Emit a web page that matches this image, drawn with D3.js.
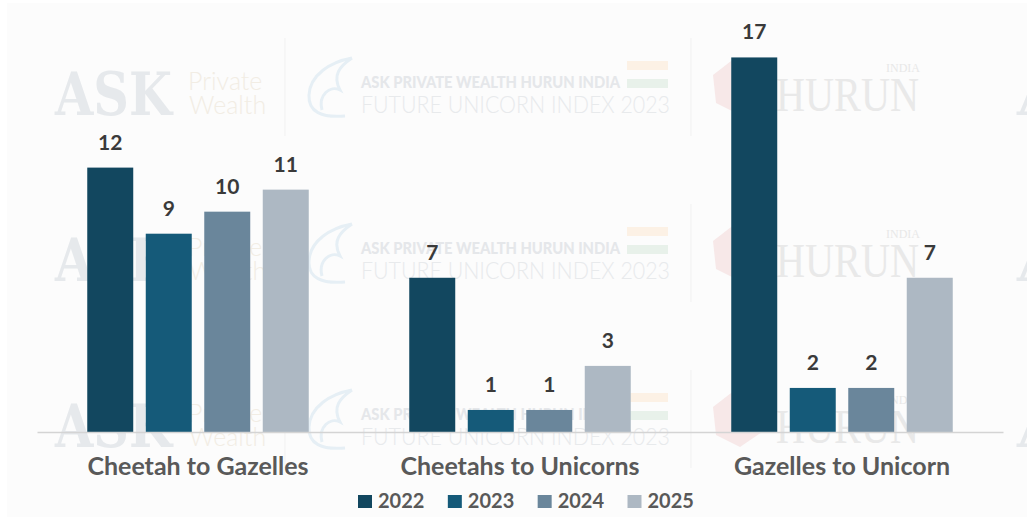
<!DOCTYPE html>
<html><head><meta charset="utf-8">
<script src="https://cdn.jsdelivr.net/npm/d3@7"></script>
<style>
html,body{margin:0;padding:0;background:#fff;}
svg{display:block;}
</style></head>
<body>
<svg id="chart" width="1027" height="517"></svg>
<script>
const categories = ["Cheetah to Gazelles", "Cheetahs to Unicorns", "Gazelles to Unicorn"];
const years = ["2022", "2023", "2024", "2025"];
const values2022 = [12, 7, 17];
const values2023 = [9, 1, 2];
const values2024 = [10, 1, 2];
const values2025 = [11, 3, 7];
const colors = ["#12475f", "#155a79", "#6a869b", "#adb8c3"];

const seriesValues = [values2022, values2023, values2024, values2025];
const data = categories.map((c, i) => ({
  category: c,
  items: years.map((y, j) => ({ year: y, value: seriesValues[j][i] }))
}));

const svg = d3.select("#chart");
svg.append("rect").attr("x", 7).attr("y", 3).attr("width", 1020).attr("height", 514).attr("fill", "#fcfcfc");

// faint watermark tiles
const wm = svg.append("g").attr("class", "watermark");
const rowOffsets = [0, 166, 332];
rowOffsets.forEach(dy => {
  const g = wm.append("g").attr("transform", `translate(0,${dy})`);
  g.append("text").attr("x", 55).attr("y", 115).attr("font-family", "DejaVu Serif").attr("font-weight", "bold")
    .attr("font-size", 60).attr("fill", "#e6e9ec").attr("textLength", 117).attr("lengthAdjust", "spacingAndGlyphs").text("ASK");
  g.append("text").attr("x", 188).attr("y", 90).attr("font-family", "Lato").attr("font-weight", 300)
    .attr("font-size", 25).attr("fill", "#f2ede4").text("Private");
  g.append("text").attr("x", 189).attr("y", 114).attr("font-family", "Lato").attr("font-weight", 300)
    .attr("font-size", 25).attr("fill", "#f2ede4").text("Wealth");
  g.append("line").attr("x1", 285).attr("x2", 285).attr("y1", 38).attr("y2", 136).attr("stroke", "#f1f1f1");
  g.append("path").attr("d", "M352,58 C330,62 310,75 309,95 C308,112 322,118 345,116 M322,110 C318,95 330,85 340,90 C332,75 340,66 352,58")
    .attr("fill", "none").attr("stroke", "#e6eff5").attr("stroke-width", 3);
  g.append("text").attr("x", 361).attr("y", 88).attr("font-family", "Lato").attr("font-weight", 900)
    .attr("font-size", 17).attr("fill", "#e5e7ea").attr("textLength", 259).attr("lengthAdjust", "spacingAndGlyphs").text("ASK PRIVATE WEALTH HURUN INDIA");
  g.append("text").attr("x", 361).attr("y", 113).attr("font-family", "Lato").attr("font-weight", 300)
    .attr("font-size", 24).attr("fill", "#e8eaec").attr("textLength", 309).attr("lengthAdjust", "spacingAndGlyphs").text("FUTURE UNICORN INDEX 2023");
  g.append("rect").attr("x", 627).attr("y", 61).attr("width", 41).attr("height", 9).attr("fill", "#fcf1e5");
  g.append("rect").attr("x", 627).attr("y", 79).attr("width", 41).attr("height", 9).attr("fill", "#e8f1ea");
  g.append("line").attr("x1", 691).attr("x2", 691).attr("y1", 38).attr("y2", 136).attr("stroke", "#f1f1f1");
  g.append("polygon").attr("points", "735,58 760,70 762,100 740,115 716,103 713,75").attr("fill", "#f7e8e8");
  g.append("text").attr("x", 886).attr("y", 72).attr("font-family", "Liberation Serif")
    .attr("font-size", 12).attr("fill", "#e8e8e8").text("INDIA");
  g.append("text").attr("x", 776).attr("y", 111).attr("font-family", "Liberation Serif")
    .attr("font-size", 48).attr("fill", "#e9e9e9").attr("textLength", 143).attr("lengthAdjust", "spacingAndGlyphs").text("HURUN");
  g.append("text").attr("x", 1017).attr("y", 115).attr("font-family", "DejaVu Serif").attr("font-weight", "bold")
    .attr("font-size", 60).attr("fill", "#e6e9ec").text("A");
});

const x0 = d3.scaleBand().domain(categories).range([37, 1003]);
const x1 = d3.scaleBand().domain(years).range([0, x0.bandwidth()]).paddingInner(0.214).paddingOuter(0.859);
const y = d3.scaleLinear().domain([0, 18]).range([432, 35.4]);
const color = d3.scaleOrdinal().domain(years).range(colors);

const groups = svg.append("g").selectAll("g").data(data).join("g")
  .attr("transform", d => `translate(${x0(d.category)},0)`);

groups.selectAll("rect").data(d => d.items).join("rect")
  .attr("x", d => x1(d.year))
  .attr("y", d => y(d.value))
  .attr("width", x1.bandwidth())
  .attr("height", d => y(0) - y(d.value))
  .attr("fill", d => color(d.year));

groups.selectAll("text.val").data(d => d.items).join("text")
  .attr("class", "val")
  .attr("x", d => x1(d.year) + x1.bandwidth() / 2)
  .attr("y", d => y(d.value) - 18)
  .attr("text-anchor", "middle")
  .attr("font-family", "Lato").attr("font-weight", "bold").attr("font-size", 21)
  .attr("fill", "#3a3a3a")
  .text(d => d.value);

const axis = svg.append("g").attr("transform", `translate(0,${y(0)})`)
  .call(d3.axisBottom(x0).tickSize(0).tickPadding(43).tickSizeOuter(0));
axis.select(".domain").attr("stroke", "#d4d4d4").attr("stroke-width", 1.5);
axis.selectAll(".tick text")
  .attr("font-family", "Lato").attr("font-weight", "bold").attr("font-size", 25)
  .attr("fill", "#595959").attr("dy", 0);

const legend = svg.append("g");
const legendX = d3.scalePoint().domain(years).range([358, 627.5]);
const li = legend.selectAll("g").data(years).join("g")
  .attr("transform", d => `translate(${legendX(d)},0)`);
li.append("rect").attr("x", 0).attr("y", 495).attr("width", 14).attr("height", 13).attr("fill", d => color(d));
li.append("text").attr("x", 20).attr("y", 508)
  .attr("font-family", "Lato").attr("font-weight", "bold").attr("font-size", 20)
  .attr("fill", "#595959").text(d => d);
</script>
</body></html>
